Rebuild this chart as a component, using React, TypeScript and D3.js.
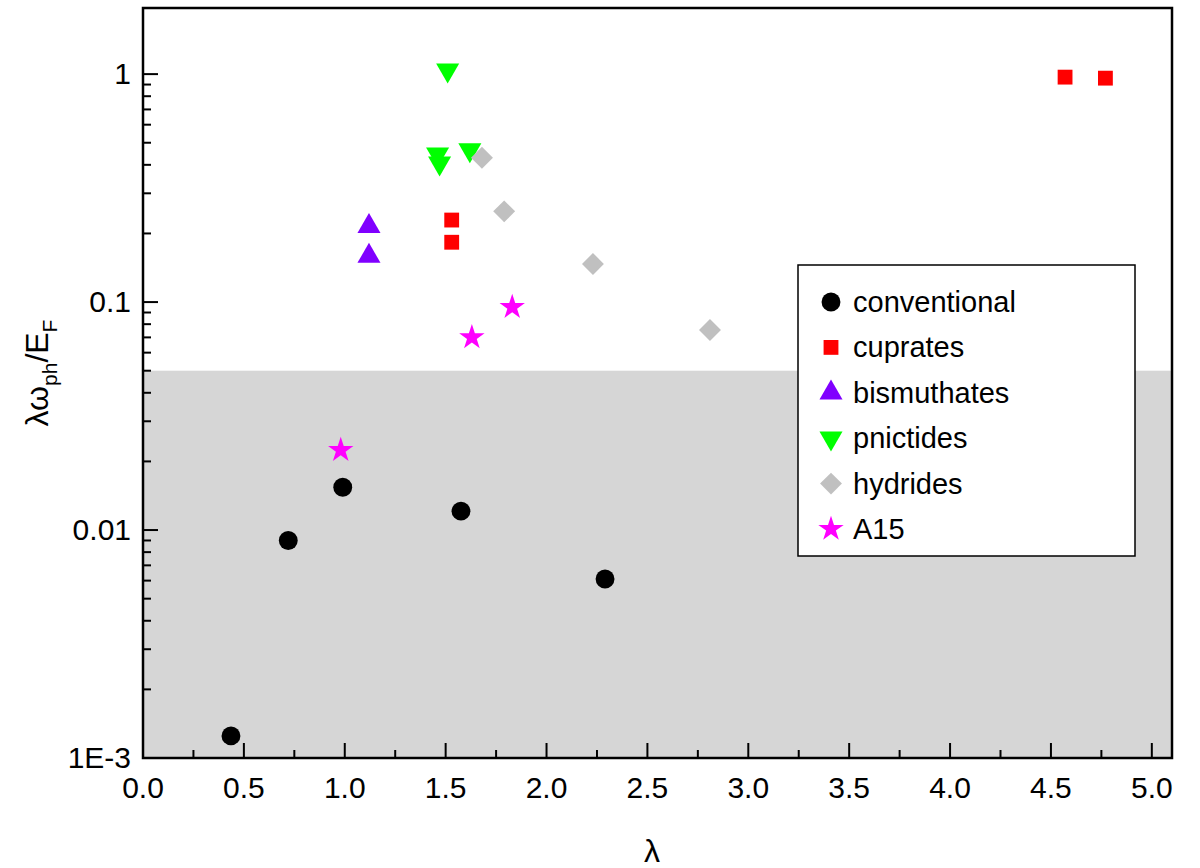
import * as d3 from "d3";

const conventional: [number, number][] = [[0.436, 0.00125], [0.72, 0.009], [0.99, 0.0154], [1.576, 0.0121], [2.29, 0.0061]];
const cuprates: [number, number][] = [[1.53, 0.229], [1.53, 0.183], [4.57, 0.97], [4.77, 0.96]];
const bismuthates: [number, number][] = [[1.12, 0.215], [1.12, 0.159]];
const pnictides: [number, number][] = [[1.51, 1.04], [1.46, 0.446], [1.47, 0.407], [1.62, 0.465]];
const hydrides: [number, number][] = [[1.68, 0.43], [1.79, 0.25], [2.23, 0.147], [2.81, 0.0754]];
const a15: [number, number][] = [[0.98, 0.0224], [1.63, 0.07], [1.83, 0.095]];

const series = [
  { name: "conventional", data: conventional, color: "#000000", sym: d3.symbolCircle, size: 280, rot: 0 },
  { name: "cuprates", data: cuprates, color: "#ff0000", sym: d3.symbolSquare, size: 220, rot: 0 },
  { name: "bismuthates", data: bismuthates, color: "#8000ff", sym: d3.symbolTriangle, size: 230, rot: 0 },
  { name: "pnictides", data: pnictides, color: "#00ff00", sym: d3.symbolTriangle, size: 230, rot: 180 },
  { name: "hydrides", data: hydrides, color: "#c0c0c0", sym: d3.symbolSquare, size: 240, rot: 45 },
  { name: "A15", data: a15, color: "#ff00ff", sym: d3.symbolStar, size: 200, rot: 0 },
];

const xTicks = d3.range(0, 5.01, 0.5);
const yTicks = [0.001, 0.01, 0.1, 1];
const yLabels = ["1E-3", "0.01", "0.1", "1"];

const L = 143, R = 1172, T = 8, B = 758;
const x = d3.scaleLinear().domain([0, 5.1]).range([L, R]);
const y = d3.scaleLog().domain([0.001, 1.95]).range([B, T]);

export default function App() {
  const minorX = d3.range(0.25, 5.1, 0.5);
  const minorY: number[] = [];
  [0.001, 0.01, 0.1, 1].forEach((d) => {
    for (let k = 2; k <= 9; k++) if (d * k < 1.95) minorY.push(d * k);
  });
  const font = "Arial, 'Liberation Sans', sans-serif";
  return (
    <svg width={1200} height={868} style={{ position: "absolute", left: 0, top: 0 }} fontFamily={font}>
      <rect width={1200} height={868} fill="white" />
      <rect x={L} y={y(0.05)} width={R - L} height={B - y(0.05)} fill="#d6d6d6" />
      {series.map((s) =>
        s.data.map((d, i) => (
          <path key={s.name + i} d={d3.symbol(s.sym, s.size)()!} fill={s.color}
            transform={`translate(${x(d[0])},${y(d[1])}) rotate(${s.rot})`} />
        ))
      )}
      <rect x={L} y={T} width={R - L} height={B - T} fill="none" stroke="black" strokeWidth={2.5} />
      {xTicks.map((t) => (
        <g key={"x" + t}>
          <line x1={x(t)} x2={x(t)} y1={B} y2={B - 15} stroke="black" strokeWidth={2} />
          <text x={x(t)} y={B + 40} fontSize={30} textAnchor="middle">{t.toFixed(1)}</text>
        </g>
      ))}
      {minorX.map((t) => (
        <line key={"mx" + t} x1={x(t)} x2={x(t)} y1={B} y2={B - 8} stroke="black" strokeWidth={2} />
      ))}
      {yTicks.map((t, i) => (
        <g key={"y" + t}>
          <line x1={L} x2={L + 15} y1={y(t)} y2={y(t)} stroke="black" strokeWidth={2} />
          <text x={L - 12} y={y(t) + 10} fontSize={30} textAnchor="end">{yLabels[i]}</text>
        </g>
      ))}
      {minorY.map((t) => (
        <line key={"my" + t} x1={L} x2={L + 8} y1={y(t)} y2={y(t)} stroke="black" strokeWidth={2} />
      ))}
      <text x={652} y={862} fontSize={32} textAnchor="middle">λ</text>
      <text transform={`translate(48,${(T + B) / 2 - 10}) rotate(-90)`} fontSize={32} textAnchor="middle">
        λω<tspan fontSize={21} dy={9}>ph</tspan><tspan dy={-9}>/E</tspan><tspan fontSize={21} dy={9}>F</tspan>
      </text>
      <rect x={798} y={265} width={337} height={291} fill="white" stroke="black" strokeWidth={1.5} />
      {series.map((s, i) => (
        <g key={"leg" + s.name} transform={`translate(0,${302 + i * 45.4})`}>
          <path d={d3.symbol(s.sym, s.size)()!} fill={s.color} transform={`translate(831,0) rotate(${s.rot})`} />
          <text x={853} y={10} fontSize={29}>{s.name}</text>
        </g>
      ))}
    </svg>
  );
}
